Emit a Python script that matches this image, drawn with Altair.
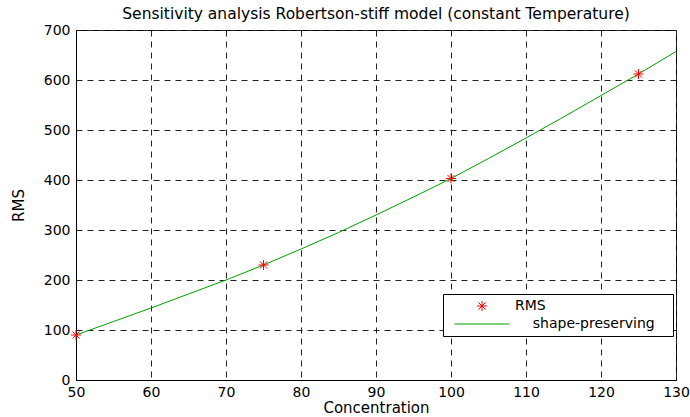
import altair as alt
import pandas as pd

NB = "\u00a0"
ZW = "\u200b"

# Measured points (RMS markers)
rms_x = [50, 75, 100, 125]
rms_y = [90, 230, 403, 612]

# Shape-preserving curve, values
curve_x = [50, 55, 60, 65, 70, 75, 80, 85, 90, 95, 100, 105, 110, 115, 120, 125, 130]
curve_y = [90, 117, 144, 172, 200, 230, 262, 295, 330, 366, 403, 443, 484, 526, 569, 612, 657]

x_ticks = [50, 60, 70, 80, 90, 100, 110, 120, 130]
y_ticks = [0, 100, 200, 300, 400, 500, 600, 700]

# legend entries (MATLAB pads the fit name with spaces)
series_names = ["RMS", ZW + NB * 4 + "shape-preserving" + NB * 3 + ZW]

pts = pd.DataFrame({"x": rms_x, "y": rms_y, "series": series_names[0]})
crv = pd.DataFrame({"x": curve_x, "y": curve_y, "series": series_names[1]})

ASTERISK = "M-1,0L1,0M0,-1L0,1M-0.7,-0.7L0.7,0.7M-0.7,0.7L0.7,-0.7"
LINESYM = "M-5.5,0L5.5,0"

FONT = "DejaVu Sans"

xenc = alt.X("x:Q", scale=alt.Scale(domain=[50, 130], nice=False, zero=False),
             axis=alt.Axis(values=x_ticks, title="Concentration"))
yenc = alt.Y("y:Q", scale=alt.Scale(domain=[0, 700], nice=False),
             axis=alt.Axis(values=y_ticks, title="RMS"))

color_scale = alt.Scale(domain=series_names, range=["#ff0000", "#00a000"])
shape_scale = alt.Scale(domain=series_names, range=[ASTERISK, LINESYM])

leg = alt.Legend(title=None, orient="none", legendX=367, legendY=264)

line = alt.Chart(crv).mark_line(strokeWidth=1).encode(
    x=xenc, y=yenc,
    color=alt.Color("series:N", scale=color_scale, legend=leg),
)

points = alt.Chart(pts).mark_point(filled=False, size=100, strokeWidth=1, opacity=1).encode(
    x=xenc, y=yenc,
    color=alt.Color("series:N", scale=color_scale, legend=leg),
    shape=alt.Shape("series:N", scale=shape_scale, legend=leg),
)

chart = (
    alt.layer(line, points)
    .properties(
        width=600, height=350,
        title=alt.TitleParams(
            "Sensitivity analysis Robertson-stiff model (constant Temperature)",
            font=FONT, fontSize=15.5, fontWeight="normal", color="#000", offset=1,
        ),
        autosize=alt.AutoSizeParams(type="none"),
        padding={"left": 76, "top": 30, "right": 14, "bottom": 37},
    )
    .configure_view(stroke="#000", strokeWidth=1)
    .configure_axis(
        grid=True, gridColor="#222", gridDash=[6, 5], gridWidth=1, gridOpacity=1,
        domain=True, domainColor="#000", domainWidth=1,
        ticks=False, labelFlush=False,
        labelFont=FONT, labelFontSize=14, labelColor="#000",
        titleFont=FONT, titleFontSize=15, titleFontWeight="normal", titleColor="#000",
    )
    .configure_axisX(labelPadding=5, titlePadding=1)
    .configure_axisY(labelPadding=6, titlePadding=17)
    .configure_legend(
        fillColor="#fff", strokeColor="#000", padding=5,
        symbolSize=100, symbolStrokeWidth=1, symbolOffset=27,
        labelFont=FONT, labelFontSize=14, labelColor="#000",
        labelOffset=26, rowPadding=4,
    )
)

chart.save("out.html", embed_options={"renderer": "svg", "actions": False})
